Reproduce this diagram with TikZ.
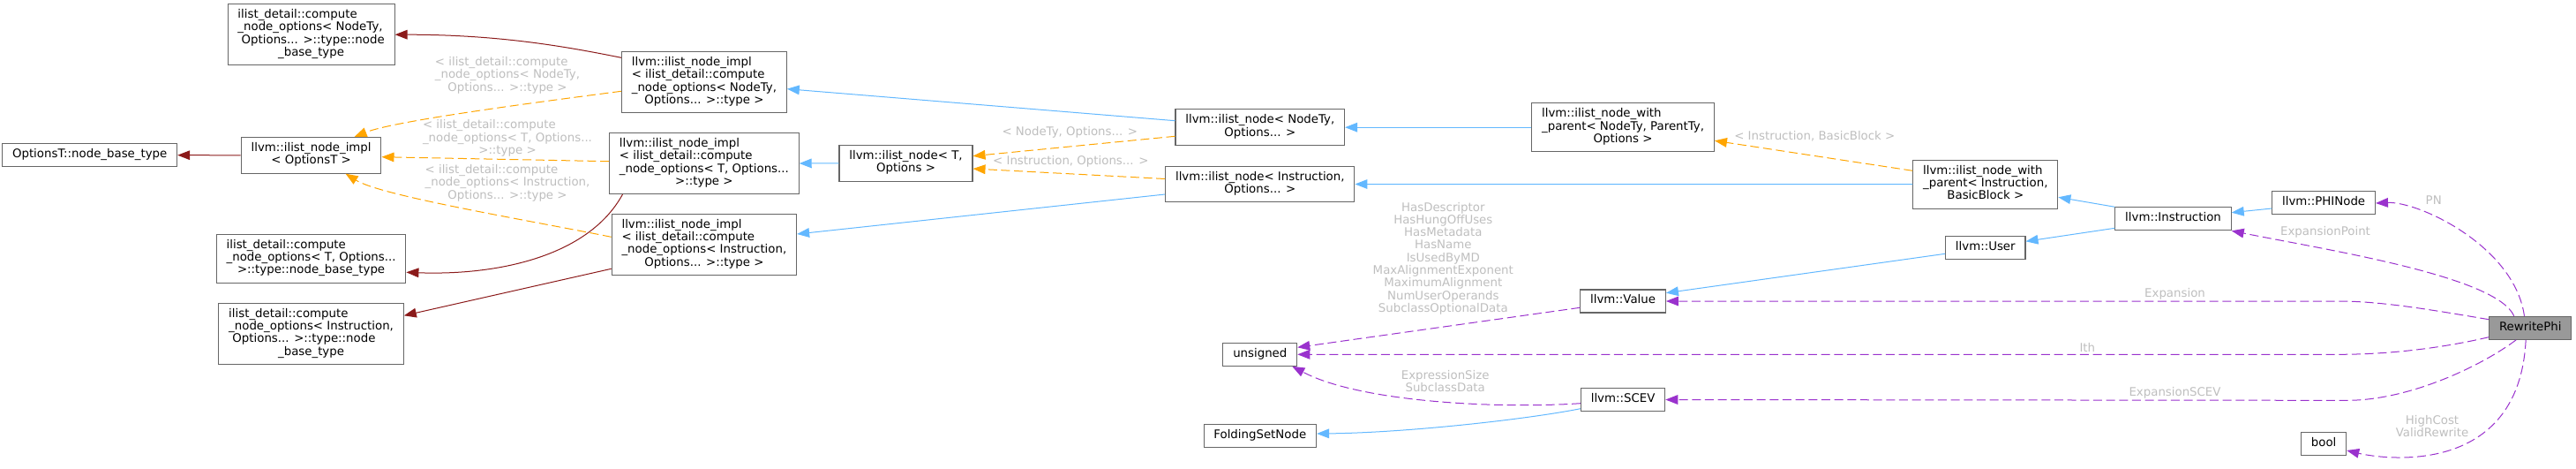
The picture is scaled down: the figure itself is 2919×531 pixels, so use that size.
\documentclass[tikz,border=0pt]{standalone}
\usepackage{fontspec}
\setmainfont{DejaVu Sans}
\usetikzlibrary{arrows.meta,calc}
\definecolor{dxred}{HTML}{8B1A1A}
\definecolor{dxblue}{HTML}{63B8FF}
\definecolor{dxorange}{HTML}{FFA500}
\definecolor{dxpurple}{HTML}{9A32CD}
\definecolor{dxborder}{HTML}{666666}
\definecolor{dxmain}{HTML}{999999}
\definecolor{dxlabel}{HTML}{BEBEBE}
\newcommand{\dxfont}{\fontsize{10}{10.5}\selectfont}
\newcommand{\dxlines}[1]{\begin{tabular}{@{}l@{}}#1\end{tabular}}
\newcommand{\dxc}[1]{\multicolumn{1}{@{}c@{}}{#1}}
\newcommand{\dxcc}[1]{\begin{tabular}{@{}c@{}}#1\end{tabular}}

\begin{document}
\begin{tikzpicture}[x=0.75pt,y=-0.75pt,font=\dxfont]
  \tikzstyle{box}=[draw=dxborder, line width=0.8pt, fill=white, inner xsep=8.5pt, inner ysep=4.5pt]
  \tikzstyle{cls}=[box, text height=7.35pt, text depth=3.15pt]
  \tikzstyle{mcls}=[box]
  \tikzstyle{focus}=[cls, fill=dxmain]
  \tikzstyle{elabel}=[text=dxlabel, inner sep=0pt]
  \tikzstyle{privinh}=[draw=dxred, line width=0.75pt, -{Triangle[length=10.5pt,width=8pt]}]
  \tikzstyle{pubinh}=[draw=dxblue, line width=0.75pt, -{Triangle[length=10.5pt,width=8pt]}]
  \tikzstyle{tmpl}=[draw=dxorange, line width=0.75pt, dash pattern=on 7.5pt off 3.5pt, -{Triangle[length=10.5pt,width=8pt]}]
  \tikzstyle{uses}=[draw=dxpurple, line width=0.75pt, dash pattern=on 7.5pt off 3.5pt, -{Triangle[length=10.5pt,width=8pt]}]

  \path[use as bounding box] (0,0) rectangle (2919,531);

  \node[cls] (optsbase) at (101.7,175.7) {OptionsT::node\_base\_type};

  \node[mcls] (implOpts) at (352.6,175.8) {\dxlines{llvm::ilist\_node\_impl\\\dxc{< OptionsT >}}};
  \node[mcls] (cnoNodeTyBase) at (352.6,39.2) {\dxlines{ilist\_detail::compute\\\_node\_options< NodeTy,\\\ Options... >::type::node\\\dxc{\_base\_type}}};
  \node[mcls] (cnoTBase) at (352.6,292.7) {\dxlines{ilist\_detail::compute\\\_node\_options< T, Options...\\\dxc{>::type::node\_base\_type}}};
  \node[mcls] (cnoInstBase) at (352.6,377.8) {\dxlines{ilist\_detail::compute\\\_node\_options< Instruction,\\\ Options... >::type::node\\\dxc{\_base\_type}}};

  \node[mcls] (implNodeTy) at (797.9,93) {\dxlines{llvm::ilist\_node\_impl\\< ilist\_detail::compute\\\_node\_options< NodeTy,\\\dxc{Options... >::type >}}};
  \node[mcls] (implT) at (797.9,185) {\dxlines{llvm::ilist\_node\_impl\\< ilist\_detail::compute\\\_node\_options< T, Options...\\\dxc{>::type >}}};
  \node[mcls] (implInst) at (797.9,276.8) {\dxlines{llvm::ilist\_node\_impl\\< ilist\_detail::compute\\\_node\_options< Instruction,\\\dxc{Options... >::type >}}};

  \node[mcls] (nodeT) at (1026.5,184.8) {\dxlines{llvm::ilist\_node< T,\\\dxc{Options >}}};

  \node[mcls] (nodeNodeTy) at (1427.8,144.2) {\dxlines{llvm::ilist\_node< NodeTy,\\\dxc{Options... >}}};
  \node[mcls] (nodeInst) at (1427.8,208.5) {\dxlines{llvm::ilist\_node< Instruction,\\\dxc{Options... >}}};
  \node[cls] (unsigned) at (1427.8,401.3) {unsigned};
  \node[cls] (foldingSet) at (1427.8,493.5) {FoldingSetNode};

  \node[mcls] (withParentNT) at (1839.1,144.2) {\dxlines{llvm::ilist\_node\_with\\\_parent< NodeTy, ParentTy,\\\dxc{Options >}}};
  \node[cls] (value) at (1839.1,341) {llvm::Value};
  \node[cls] (scev) at (1839.1,452.5) {llvm::SCEV};

  \node[mcls] (withParentInst) at (2249.8,208.7) {\dxlines{llvm::ilist\_node\_with\\\_parent< Instruction,\\\dxc{BasicBlock >}}};
  \node[cls] (user) at (2249.8,280.8) {llvm::User};

  \node[cls] (instruction) at (2462.5,247.8) {llvm::Instruction};

  \node[cls] (phiNode) at (2633.1,229.5) {llvm::PHINode};
  \node[cls] (bool) at (2633.1,502.3) {bool};

  \node[focus] (rewritePhi) at (2867.3,371.3) {RewritePhi};

  \draw[privinh] (implOpts.west) -- (optsbase.east);
  \draw[privinh] ($(implNodeTy.west)+(0,-27.7)$) .. controls +(-60,-12) and +(120,0) .. (cnoNodeTyBase.east);
  \draw[privinh] ($(implT.south west)+(15.4,0)$) .. controls +(-38.7,70.7) and +(102.7,3.7) .. ($(cnoTBase.east)+(0,15.6)$);
  \draw[privinh] ($(implInst.west)+(0,27.5)$) -- ($(cnoInstBase.east)+(0,-20.5)$);

  \draw[tmpl] ($(implNodeTy.west)+(0,10.3)$) .. controls +(-100,13) and +(45,-18) .. ($(implOpts.north)+(49,0)$);
  \node[elabel] (lblNodeTy) at (575,86) {\dxlines{< ilist\_detail::compute\\\_node\_options< NodeTy,\\\dxc{Options... >::type >}}};
  \draw[tmpl] ($(implT.west)+(0,-2.3)$) -- ($(implOpts.east)+(0,1.9)$);
  \node[elabel] (lblT) at (575,157) {\dxlines{< ilist\_detail::compute\\\_node\_options< T, Options...\\\dxc{>::type >}}};
  \draw[tmpl] ($(implInst.west)+(0,-8.5)$) .. controls +(-100,-20) and +(40,25) .. ($(implOpts.south)+(39,0)$);
  \node[elabel] (lblInst) at (575,208) {\dxlines{< ilist\_detail::compute\\\_node\_options< Instruction,\\\dxc{Options... >::type >}}};

  \draw[pubinh] (nodeT.west) -- (implT.east);
  \draw[pubinh] ($(nodeNodeTy.west)+(0,-7.5)$) -- ($(implNodeTy.east)+(0,7.7)$);
  \draw[pubinh] ($(nodeInst.west)+(0,11.5)$) -- ($(implInst.east)+(0,-11.8)$);

  \draw[tmpl] ($(nodeNodeTy.west)+(0,10.1)$) -- ($(nodeT.east)+(0,-8.1)$);
  \node[elabel] (lblNodeTyOpts) at (1212.3,150) {< NodeTy, Options... >};
  \draw[tmpl] ($(nodeInst.west)+(0,-6)$) -- ($(nodeT.east)+(0,6.2)$);
  \node[elabel] (lblInstOpts) at (1213.3,183.3) {< Instruction, Options... >};

  \draw[pubinh] (withParentNT.west) -- (nodeNodeTy.east);
  \draw[pubinh] (withParentInst.west) -- (nodeInst.east);
  \draw[tmpl] ($(withParentInst.west)+(0,-15.4)$) -- ($(withParentNT.east)+(0,15.1)$);
  \node[elabel] (lblInstBB) at (2056.3,154) {< Instruction, BasicBlock >};

  \draw[pubinh] (instruction.north west) -- ($(withParentInst.east)+(0,14.6)$);
  \draw[pubinh] ($(instruction.west)+(0,10.5)$) -- ($(user.east)+(0,-7.5)$);
  \draw[pubinh] ($(user.west)+(0,6.5)$) -- ($(value.east)+(0,-9.3)$);
  \draw[pubinh] ($(phiNode.west)+(0,6.5)$) -- ($(instruction.east)+(0,-7.1)$);
  \draw[pubinh] ($(scev.west)+(0,10.2)$) .. controls +(-62,12.3) and +(100,-1) .. ($(foldingSet.east)+(0,-2.5)$);

  \draw[uses] ($(value.west)+(0,7.3)$) -- ($(unsigned.east)+(0,-8)$);
  \node[elabel] (lblValueBits) at (1635.3,293.5) {\dxcc{HasDescriptor\\HasHungOffUses\\HasMetadata\\HasName\\IsUsedByMD\\MaxAlignmentExponent\\MaximumAlignment\\NumUserOperands\\SubclassOptionalData}};
  \draw[uses] ($(scev.west)+(0,4.2)$) .. controls +(-92,6.3) and +(77.3,40.7) .. ($(unsigned.south east)+(-6,0)$);
  \node[elabel] (lblScevBits) at (1637.7,433.3) {\dxcc{ExpressionSize\\SubclassData}};

  \draw[uses] ($(rewritePhi.west)+(0,10.4)$) .. controls +(-60,14) and +(50,0) .. ++(-170,19.6) -- (unsigned.east);
  \node[elabel] (lblIth) at (2365.3,393.3) {Ith};
  \draw[uses] ($(rewritePhi.west)+(0,-9.6)$) .. controls +(-60,-10) and +(50,0) .. ++(-170,-20.7) -- (value.east);
  \node[elabel] (lblExpansion) at (2464.5,333) {Expansion};
  \draw[uses] ($(rewritePhi.south west)+(31,0)$) .. controls +(-40,30) and +(70,0) .. ++(-191.7,68.5) -- (scev.east);
  \node[elabel] (lblExpansionScev) at (2464.5,444.7) {ExpansionSCEV};
  \draw[uses] ($(rewritePhi.north west)+(28.6,0)$) .. controls +(-20,-45) and +(110,22) .. (instruction.south east);
  \node[elabel] (lblExpansionPoint) at (2635,262.7) {ExpansionPoint};
  \draw[uses] ($(rewritePhi.north west)+(40.3,0)$) .. controls +(-11,-78.7) and +(49.3,-2) .. ($(phiNode.east)+(0,0.5)$);
  \node[elabel] (lblPN) at (2757.7,227) {PN};
  \draw[uses] ($(rewritePhi.south west)+(42,0)$) .. controls +(-7.7,156) and +(41.7,10) .. ($(bool.east)+(0,7.7)$);
  \node[elabel] (lblBool) at (2756,484.3) {\dxcc{HighCost\\ValidRewrite}};
\end{tikzpicture}
\end{document}
